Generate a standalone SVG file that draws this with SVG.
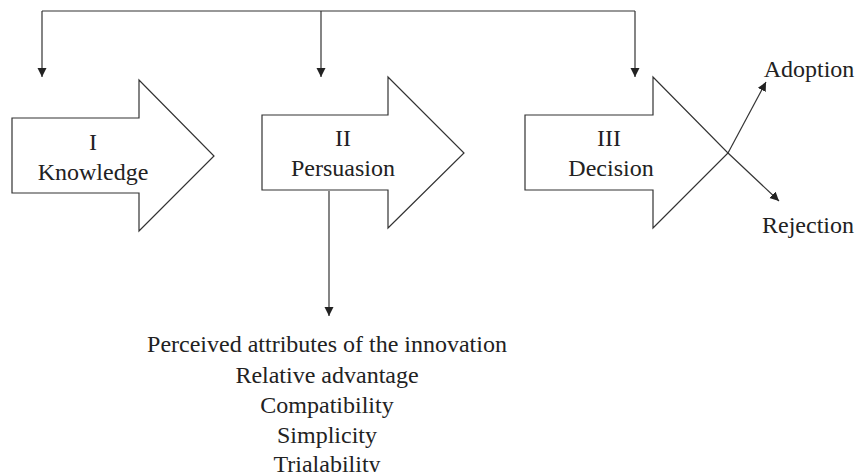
<svg xmlns="http://www.w3.org/2000/svg" width="858" height="472" viewBox="0 0 858 472">
<defs>
<style>
.shape{fill:#fff;stroke:#333;stroke-width:1.2}
.line{fill:none;stroke:#333;stroke-width:1.2}
text{font-family:"Liberation Serif","Times New Roman",serif;font-size:24px;fill:#222;text-anchor:middle}
</style>
<marker id="ah" markerUnits="userSpaceOnUse" markerWidth="10" markerHeight="10" refX="9" refY="4.5" orient="auto">
<path d="M0,0 L9,4.5 L0,9 z" fill="#222"/>
</marker>
</defs>
<rect width="858" height="472" fill="#fff"/>
<g id="knowledge">
<polygon class="shape" points="12,118 139,118 139,80 214,156 139,231 139,193 12,193"/>
<text x="93" y="150">I</text>
<text x="93" y="180">Knowledge</text>
</g>
<g id="persuasion">
<polygon class="shape" points="262,115 388,115 388,77 464,153 388,228 388,190 262,190"/>
<text x="343" y="146">II</text>
<text x="343" y="176">Persuasion</text>
</g>
<g id="decision">
<polygon class="shape" points="525,115 653,115 653,77 728,153 653,228 653,190 525,190"/>
<text x="609" y="146">III</text>
<text x="611" y="176">Decision</text>
</g>
<g id="adoption"><text x="809" y="77">Adoption</text></g>
<g id="rejection"><text x="808" y="233">Rejection</text></g>
<g id="attributes">
<text x="327" y="352">Perceived attributes of the innovation</text>
<text x="327" y="383">Relative advantage</text>
<text x="327" y="413">Compatibility</text>
<text x="327" y="443">Simplicity</text>
<text x="327" y="472">Trialability</text>
</g>
<g id="connectors">
<polyline class="line" points="42,11 635,11"/>
<line class="line" x1="42" y1="11" x2="42" y2="77" marker-end="url(#ah)"/>
<line class="line" x1="321" y1="11" x2="321" y2="77" marker-end="url(#ah)"/>
<line class="line" x1="635" y1="11" x2="635" y2="77" marker-end="url(#ah)"/>
<line class="line" x1="329" y1="191" x2="329" y2="316" marker-end="url(#ah)"/>
<line class="line" x1="728" y1="153" x2="766" y2="82" marker-end="url(#ah)"/>
<line class="line" x1="728" y1="153" x2="779" y2="201" marker-end="url(#ah)"/>
</g>
</svg>
